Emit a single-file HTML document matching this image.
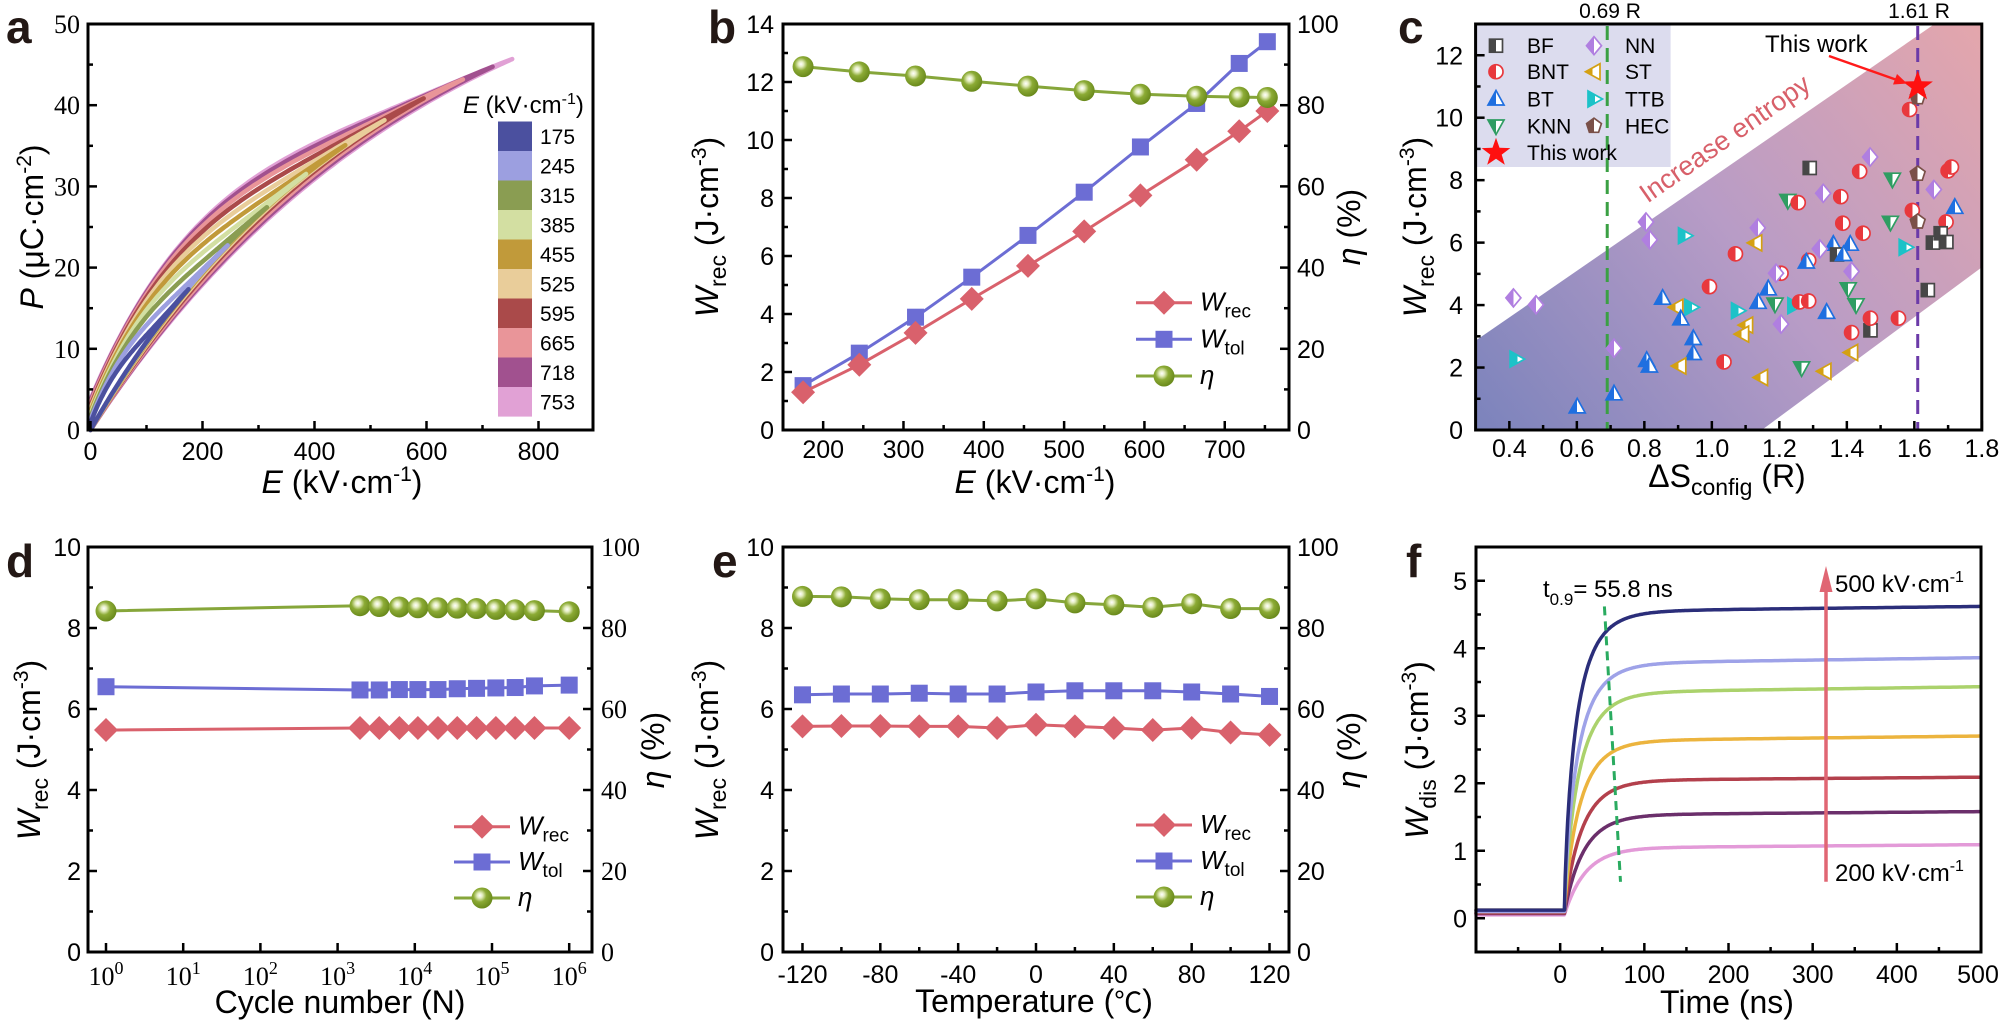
<!DOCTYPE html>
<html><head><meta charset="utf-8">
<style>
html,body{margin:0;padding:0;background:#fff;}
svg{display:block;}
text{font-family:"Liberation Sans",Arial,sans-serif;fill:#000;}
.t{font-size:25px;}
.s{font-family:"Liberation Serif","Times New Roman",serif;font-size:26px;}
.ti{font-size:32px;}
.lb{font-size:46px;font-weight:bold;fill:#231815;}
.lg{font-size:21px;}
.it{font-style:italic;}
</style></head><body>
<svg id="plot" width="2000" height="1024" viewBox="0 0 2000 1024" xmlns="http://www.w3.org/2000/svg">
<defs>
<radialGradient id="ball" cx="0.4" cy="0.38" r="0.62">
<stop offset="0" stop-color="#ffffff"/><stop offset="0.2" stop-color="#e4edc0"/><stop offset="0.5" stop-color="#8cab35"/><stop offset="1" stop-color="#6a8a1c"/>
</radialGradient>
<linearGradient id="band" gradientUnits="userSpaceOnUse" x1="1475" y1="430" x2="1981" y2="24">
<stop offset="0" stop-color="#7b83bc"/><stop offset="0.5" stop-color="#b89cc6"/><stop offset="1" stop-color="#e4a6ac"/>
</linearGradient>
<linearGradient id="hBF" x1="0" x2="1" y1="0" y2="0"><stop offset="0.5" stop-color="#474747"/><stop offset="0.5" stop-color="#fff"/></linearGradient>
<linearGradient id="hBNT" x1="0" x2="1" y1="0" y2="0"><stop offset="0.5" stop-color="#e8383d"/><stop offset="0.5" stop-color="#fff"/></linearGradient>
<linearGradient id="hBT" x1="0" x2="1" y1="0" y2="0"><stop offset="0.5" stop-color="#1f6fe0"/><stop offset="0.5" stop-color="#fff"/></linearGradient>
<linearGradient id="hKNN" x1="0" x2="1" y1="0" y2="0"><stop offset="0.5" stop-color="#2f9d62"/><stop offset="0.5" stop-color="#fff"/></linearGradient>
<linearGradient id="hNN" x1="0" x2="1" y1="0" y2="0"><stop offset="0.5" stop-color="#b07fe0"/><stop offset="0.5" stop-color="#fff"/></linearGradient>
<linearGradient id="hST" x1="0" x2="1" y1="0" y2="0"><stop offset="0.5" stop-color="#d4a012"/><stop offset="0.5" stop-color="#fff"/></linearGradient>
<linearGradient id="hTTB" x1="0" x2="1" y1="0" y2="0"><stop offset="0.5" stop-color="#1cc2c8"/><stop offset="0.5" stop-color="#fff"/></linearGradient>
<linearGradient id="hHEC" x1="0" x2="1" y1="0" y2="0"><stop offset="0.5" stop-color="#7a5048"/><stop offset="0.5" stop-color="#fff"/></linearGradient>
</defs>
<g id="bg"></g>
<g id="data"></g>
<g id="fr"></g>

<!-- ============ Panel a ============ -->
<text class="lb" x="6" y="43">a</text>
<g class="s" text-anchor="end">
<text class="s" x="80" y="439">0</text>
<text class="s" x="80" y="357.8">10</text>
<text class="s" x="80" y="276.6">20</text>
<text class="s" x="80" y="195.4">30</text>
<text class="s" x="80" y="114.2">40</text>
<text class="s" x="80" y="33">50</text>
</g>
<g text-anchor="middle">
<text class="t" x="90.5" y="460">0</text>
<text class="t" x="202.5" y="460">200</text>
<text class="t" x="314.5" y="460">400</text>
<text class="t" x="426.5" y="460">600</text>
<text class="t" x="538.5" y="460">800</text>
<text class="ti" x="342" y="493"><tspan class="it">E</tspan> (kV·cm<tspan dy="-12" font-size="21">-1</tspan><tspan dy="12">)</tspan></text>
<text class="ti" transform="translate(43,227) rotate(-90)"><tspan class="it">P</tspan> (μC·cm<tspan dy="-12" font-size="21">-2</tspan><tspan dy="12">)</tspan></text>
</g>
<text x="463" y="113" font-size="24"><tspan class="it">E</tspan> (kV·cm<tspan dy="-9" font-size="16">-1</tspan><tspan dy="9">)</tspan></text>
<g class="lg">
<text x="540" y="143.8">175</text>
<text x="540" y="173.3">245</text>
<text x="540" y="202.8">315</text>
<text x="540" y="232.3">385</text>
<text x="540" y="261.8">455</text>
<text x="540" y="291.3">525</text>
<text x="540" y="320.8">595</text>
<text x="540" y="350.3">665</text>
<text x="540" y="379.8">718</text>
<text x="540" y="409.3">753</text>
</g>

<!-- ============ Panel b ============ -->
<text class="lb" x="708" y="43">b</text>
<g text-anchor="end">
<text class="t" x="774" y="439">0</text>
<text class="t" x="774" y="381">2</text>
<text class="t" x="774" y="323">4</text>
<text class="t" x="774" y="265">6</text>
<text class="t" x="774" y="207">8</text>
<text class="t" x="774" y="149">10</text>
<text class="t" x="774" y="91">12</text>
<text class="t" x="774" y="33">14</text>
</g>
<text class="t" x="1297" y="439">0</text>
<text class="t" x="1297" y="357.8">20</text>
<text class="t" x="1297" y="276.6">40</text>
<text class="t" x="1297" y="195.4">60</text>
<text class="t" x="1297" y="114.2">80</text>
<text class="t" x="1297" y="33">100</text>
<g text-anchor="middle">
<text class="t" x="823.2" y="458">200</text>
<text class="t" x="903.5" y="458">300</text>
<text class="t" x="983.8" y="458">400</text>
<text class="t" x="1064.1" y="458">500</text>
<text class="t" x="1144.4" y="458">600</text>
<text class="t" x="1224.7" y="458">700</text>
<text class="ti" x="1035" y="493"><tspan class="it">E</tspan> (kV·cm<tspan dy="-12" font-size="21">-1</tspan><tspan dy="12">)</tspan></text>
<text class="ti" transform="translate(718,227) rotate(-90)"><tspan class="it">W</tspan><tspan dy="8" font-size="23">rec</tspan><tspan dy="-8"> (J·cm</tspan><tspan dy="-12" font-size="21">-3</tspan><tspan dy="12">)</tspan></text>
<text class="ti" transform="translate(1360,227) rotate(-90)"><tspan class="it">η</tspan> (%)</text>
</g>
<text x="1200" y="310.7" font-size="26"><tspan class="it">W</tspan><tspan dy="7" font-size="19">rec</tspan></text>
<text x="1200" y="347.3" font-size="26"><tspan class="it">W</tspan><tspan dy="7" font-size="19">tol</tspan></text>
<text x="1200" y="384" font-size="26" class="it">η</text>

<!-- ============ Panel c ============ -->
<text class="lb" x="1398" y="43">c</text>
<text x="1610" y="18" font-size="21" text-anchor="middle">0.69 R</text>
<text x="1919" y="18" font-size="21" text-anchor="middle">1.61 R</text>
<g text-anchor="end">
<text class="t" x="1463" y="439">0</text>
<text class="t" x="1463" y="376.5">2</text>
<text class="t" x="1463" y="314.1">4</text>
<text class="t" x="1463" y="251.6">6</text>
<text class="t" x="1463" y="189.2">8</text>
<text class="t" x="1463" y="126.7">10</text>
<text class="t" x="1463" y="64.3">12</text>
</g>
<g text-anchor="middle">
<text class="t" x="1509.4" y="457">0.4</text>
<text class="t" x="1576.9" y="457">0.6</text>
<text class="t" x="1644.4" y="457">0.8</text>
<text class="t" x="1711.9" y="457">1.0</text>
<text class="t" x="1779.4" y="457">1.2</text>
<text class="t" x="1846.9" y="457">1.4</text>
<text class="t" x="1914.4" y="457">1.6</text>
<text class="t" x="1981.9" y="457">1.8</text>
<text class="ti" x="1727" y="487">ΔS<tspan dy="8" font-size="23">config</tspan><tspan dy="-8"> (R)</tspan></text>
<text class="ti" transform="translate(1426,227) rotate(-90)"><tspan class="it">W</tspan><tspan dy="8" font-size="23">rec</tspan><tspan dy="-8"> (J·cm</tspan><tspan dy="-12" font-size="21">-3</tspan><tspan dy="12">)</tspan></text>
<text font-size="27" fill="#d8606a" style="fill:#d8606a" transform="translate(1730,146) rotate(-35)">Increase entropy</text>
</g>
<g class="lg">
<text x="1527" y="53.2">BF</text>
<text x="1527" y="79.2">BNT</text>
<text x="1527" y="106.5">BT</text>
<text x="1527" y="133.5">KNN</text>
<text x="1527" y="160.2">This work</text>
<text x="1625" y="53.2">NN</text>
<text x="1625" y="79.2">ST</text>
<text x="1625" y="106.5">TTB</text>
<text x="1625" y="133.5">HEC</text>
</g>
<text x="1765" y="52" font-size="24">This work</text>

<!-- ============ Panel d ============ -->
<text class="lb" x="6" y="577">d</text>
<g text-anchor="end">
<text class="t" x="81" y="961">0</text>
<text class="t" x="81" y="880">2</text>
<text class="t" x="81" y="799">4</text>
<text class="t" x="81" y="718">6</text>
<text class="t" x="81" y="637">8</text>
<text class="t" x="81" y="556">10</text>
</g>
<text class="s" x="601" y="961">0</text>
<text class="s" x="601" y="880">20</text>
<text class="s" x="601" y="799">40</text>
<text class="s" x="601" y="718">60</text>
<text class="s" x="601" y="637">80</text>
<text class="s" x="601" y="556">100</text>
<g text-anchor="middle">
<text class="s" x="106" y="985">10<tspan dy="-11" font-size="18">0</tspan></text>
<text class="s" x="183.2" y="985">10<tspan dy="-11" font-size="18">1</tspan></text>
<text class="s" x="260.4" y="985">10<tspan dy="-11" font-size="18">2</tspan></text>
<text class="s" x="337.6" y="985">10<tspan dy="-11" font-size="18">3</tspan></text>
<text class="s" x="414.8" y="985">10<tspan dy="-11" font-size="18">4</tspan></text>
<text class="s" x="492" y="985">10<tspan dy="-11" font-size="18">5</tspan></text>
<text class="s" x="569.2" y="985">10<tspan dy="-11" font-size="18">6</tspan></text>
<text class="ti" x="340" y="1013">Cycle number (N)</text>
<text class="ti" transform="translate(40,750) rotate(-90)"><tspan class="it">W</tspan><tspan dy="8" font-size="23">rec</tspan><tspan dy="-8"> (J·cm</tspan><tspan dy="-12" font-size="21">-3</tspan><tspan dy="12">)</tspan></text>
<text class="ti" transform="translate(664,750) rotate(-90)"><tspan class="it">η</tspan> (%)</text>
</g>
<text x="518" y="834.7" font-size="26"><tspan class="it">W</tspan><tspan dy="7" font-size="19">rec</tspan></text>
<text x="518" y="870" font-size="26"><tspan class="it">W</tspan><tspan dy="7" font-size="19">tol</tspan></text>
<text x="518" y="906" font-size="26" class="it">η</text>

<!-- ============ Panel e ============ -->
<text class="lb" x="712" y="577">e</text>
<g text-anchor="end">
<text class="t" x="774" y="961">0</text>
<text class="t" x="774" y="880">2</text>
<text class="t" x="774" y="799">4</text>
<text class="t" x="774" y="718">6</text>
<text class="t" x="774" y="637">8</text>
<text class="t" x="774" y="556">10</text>
</g>
<text class="t" x="1297" y="961">0</text>
<text class="t" x="1297" y="880">20</text>
<text class="t" x="1297" y="799">40</text>
<text class="t" x="1297" y="718">60</text>
<text class="t" x="1297" y="637">80</text>
<text class="t" x="1297" y="556">100</text>
<g text-anchor="middle">
<text class="t" x="802.5" y="983">-120</text>
<text class="t" x="880.3" y="983">-80</text>
<text class="t" x="958.2" y="983">-40</text>
<text class="t" x="1036" y="983">0</text>
<text class="t" x="1113.8" y="983">40</text>
<text class="t" x="1191.7" y="983">80</text>
<text class="t" x="1269.5" y="983">120</text>
<text class="ti" x="1034" y="1012">Temperature (<tspan font-family="'Noto Sans CJK SC','DejaVu Sans',sans-serif" font-size="28">℃</tspan>)</text>
<text class="ti" transform="translate(718,750) rotate(-90)"><tspan class="it">W</tspan><tspan dy="8" font-size="23">rec</tspan><tspan dy="-8"> (J·cm</tspan><tspan dy="-12" font-size="21">-3</tspan><tspan dy="12">)</tspan></text>
<text class="ti" transform="translate(1360,750) rotate(-90)"><tspan class="it">η</tspan> (%)</text>
</g>
<text x="1200" y="833" font-size="26"><tspan class="it">W</tspan><tspan dy="7" font-size="19">rec</tspan></text>
<text x="1200" y="869" font-size="26"><tspan class="it">W</tspan><tspan dy="7" font-size="19">tol</tspan></text>
<text x="1200" y="905" font-size="26" class="it">η</text>

<!-- ============ Panel f ============ -->
<text class="lb" x="1406" y="577">f</text>
<g text-anchor="end">
<text class="t" x="1467" y="927.3">0</text>
<text class="t" x="1467" y="859.8">1</text>
<text class="t" x="1467" y="792.3">2</text>
<text class="t" x="1467" y="724.8">3</text>
<text class="t" x="1467" y="657.3">4</text>
<text class="t" x="1467" y="589.8">5</text>
</g>
<g text-anchor="middle">
<text class="t" x="1560.2" y="983">0</text>
<text class="t" x="1644.3" y="983">100</text>
<text class="t" x="1728.5" y="983">200</text>
<text class="t" x="1812.7" y="983">300</text>
<text class="t" x="1896.9" y="983">400</text>
<text class="t" x="1978" y="983">500</text>
<text class="ti" x="1727" y="1013">Time (ns)</text>
<text class="ti" transform="translate(1428,750) rotate(-90)"><tspan class="it">W</tspan><tspan dy="8" font-size="23">dis</tspan><tspan dy="-8"> (J·cm</tspan><tspan dy="-12" font-size="21">-3</tspan><tspan dy="12">)</tspan></text>
</g>
<text x="1543" y="597" font-size="24">t<tspan dy="8" font-size="17">0.9</tspan><tspan dy="-8">= 55.8 ns</tspan></text>
<text x="1835" y="592" font-size="24">500 kV·cm<tspan dy="-10" font-size="16">-1</tspan></text>
<text x="1835" y="881" font-size="24">200 kV·cm<tspan dy="-10" font-size="16">-1</tspan></text>
</svg>
<script>
(function(){
const NS='http://www.w3.org/2000/svg';
const G=id=>document.getElementById(id);
function E(tag,a,p){const e=document.createElementNS(NS,tag);for(const k in a)e.setAttribute(k,a[k]);p.appendChild(e);return e;}
const BG=G('bg'),D=G('data'),FR=G('fr');
function L(x1,y1,x2,y2,c,w,p,dash){const a={x1:x1,y1:y1,x2:x2,y2:y2,stroke:c,'stroke-width':w};if(dash)a['stroke-dasharray']=dash;return E('line',a,p);}
function pl(pts,c,w,p){return E('polyline',{points:pts.map(q=>q[0].toFixed(1)+','+q[1].toFixed(1)).join(' '),fill:'none',stroke:c,'stroke-width':w,'stroke-linejoin':'round','stroke-linecap':'round'},p);}
function dia(x,y,h,c,p){E('polygon',{points:(x)+','+(y-h)+' '+(x+h)+','+y+' '+x+','+(y+h)+' '+(x-h)+','+y,fill:c},p);}
function sq(x,y,s,c,p){E('rect',{x:x-s/2,y:y-s/2,width:s,height:s,fill:c},p);}
function ball(x,y,r,p){E('circle',{cx:x,cy:y,r:r,fill:'url(#ball)'},p);}
function frame(x0,y0,x1,y1){E('rect',{x:x0,y:y0,width:x1-x0,height:y1-y0,fill:'none',stroke:'#000','stroke-width':3},FR);}
function tb(xs,y,len){xs.forEach(x=>L(x,y,x,y-len,'#000',2.5,FR));}
function tl(ys,x,len){ys.forEach(y=>L(x,y,x+len,y,'#000',2.5,FR));}
function tr(ys,x,len){ys.forEach(y=>L(x,y,x-len,y,'#000',2.5,FR));}
function rng(a,b,s){const r=[];for(let i=0;a+i*s<=b+1e-9;i++)r.push(a+i*s);return r;}
const RED='#d9616c',BLUE='#6c6dd4',GRN='#86a63a';

/* ---------- Panel a ---------- */
const ax=E_=>90.5+E_*0.56, ay=P=>430-P*8.12;
const LC=[[175,'#4b509f'],[245,'#9c9fe0'],[315,'#8a9d52'],[385,'#d3dfa2'],[455,'#c19a3a'],[525,'#e9cd9a'],[595,'#aa4a4a'],[665,'#e99599'],[718,'#a1518f'],[753,'#e1a1d5']];
for(let i=LC.length-1;i>=0;i--){
  const Em=LC[i][0],col=LC[i][1];
  const Pm=58.7*(1-Math.exp(-Em/500));
  const E0=400+(Em-175)/578*220;
  const A=Pm/(1-Math.exp(-Em/E0));
  const r=Em/753,Pr=3.8*r,c=48*r;
  const pts=[];
  for(let k=0;k<=80;k++){const e=Em*k/80;pts.push([ax(e),ay(A*(1-Math.exp(-e/E0)))]);}
  for(let k=80;k>=0;k--){const e=Em*k/80,u=e/Em;const lo=A*(1-Math.exp(-e/E0));pts.push([ax(e),ay(lo+Pr*(1-u)+c*u*Math.pow(1-u,3))]);}
  pl(pts,col,4.5,D);
}
for(let i=0;i<LC.length;i++){E('rect',{x:498,y:121.5+29.5*i,width:34,height:29.6,fill:LC[i][1]},D);}
frame(88,24,593,430);
tb([0,200,400,600,800].map(ax),430,9);tb([100,300,500,700].map(ax),430,5);
tl(rng(0,50,10).map(ay),88,9);tl(rng(5,45,10).map(ay),88,5);

/* ---------- Panel b ---------- */
const bx=e=>783+(e-150)*0.8032, by=w=>430-w*29, bye=h=>430-h*4.06;
const bE=[175,245,315,385,455,525,595,665,718,753];
const bR=[1.3,2.25,3.35,4.52,5.66,6.85,8.09,9.32,10.3,11.0];
const bT=[1.53,2.65,3.89,5.27,6.71,8.2,9.76,11.26,12.64,13.39];
const bH=[89.5,88.2,87.2,85.9,84.7,83.6,82.7,82.2,82.0,81.9];
function series(xs,ys,fx,fy,kind){
  const col=kind==='r'?RED:kind==='t'?BLUE:GRN;
  pl(xs.map((x,i)=>[fx(x),fy(ys[i])]),col,3,D);
  xs.forEach((x,i)=>{const X=fx(x),Y=fy(ys[i]);if(kind==='r')dia(X,Y,12,RED,D);else if(kind==='t')sq(X,Y,17,BLUE,D);else ball(X,Y,10.5,D);});
}
series(bE,bT,bx,by,'t');series(bE,bR,bx,by,'r');series(bE,bH,bx,bye,'h');
function leg(mx,ys){
  L(mx-28,ys[0],mx+28,ys[0],RED,3,D);dia(mx,ys[0],12,RED,D);
  L(mx-28,ys[1],mx+28,ys[1],BLUE,3,D);sq(mx,ys[1],17,BLUE,D);
  L(mx-28,ys[2],mx+28,ys[2],GRN,3,D);ball(mx,ys[2],10.5,D);
}
leg(1164,[302.7,339.3,376]);
frame(783,24,1289,430);
tb(rng(200,700,100).map(bx),430,9);tb(rng(250,750,100).map(bx),430,5);
tl(rng(0,14,2).map(by),783,9);tl(rng(1,13,2).map(by),783,5);
tr(rng(0,100,20).map(bye),1289,9);tr(rng(10,90,20).map(bye),1289,5);

/* ---------- Panel c ---------- */
const cx=x=>1475.6+(x-0.3)*337.5, cy=y=>430-y*31.23;
E('polygon',{points:[[0.3,0],[1.148,0],[1.8,5.21],[1.8,13],[1.66,13],[0.3,2.86]].map(p=>cx(p[0])+','+cy(p[1])).join(' '),fill:'url(#band)'},BG);
E('rect',{x:1475.6,y:24,width:195,height:143,fill:'#dcdcee'},BG);
L(cx(0.69),26,cx(0.69),430,'#3aa043',3,D,'14 8');
L(cx(1.61),26,cx(1.61),430,'#6b3aa8',3,D,'14 8');
const CC={BF:'#474747',BNT:'#e8383d',BT:'#1f6fe0',KNN:'#2f9d62',NN:'#b07fe0',ST:'#d4a012',TTB:'#1cc2c8',HEC:'#7a5048'};
function mk(t,X,Y){
  const a={fill:'url(#h'+t+')',stroke:CC[t],'stroke-width':1.7};
  let pts=null;
  if(t==='BF'){a.x=X-6.5;a.y=Y-6.5;a.width=13;a.height=13;E('rect',a,D);return;}
  if(t==='BNT'){a.cx=X;a.cy=Y;a.r=7;E('circle',a,D);return;}
  if(t==='BT')pts=[[X,Y-8.5],[X+8,Y+6],[X-8,Y+6]];
  if(t==='KNN')pts=[[X,Y+8.5],[X+8,Y-6],[X-8,Y-6]];
  if(t==='NN')pts=[[X,Y-9],[X+7.5,Y],[X,Y+9],[X-7.5,Y]];
  if(t==='ST')pts=[[X-8.5,Y],[X+6,Y-8],[X+6,Y+8]];
  if(t==='TTB')pts=[[X+8.5,Y],[X-6,Y-8],[X-6,Y+8]];
  if(t==='HEC'){pts=[];for(let k=0;k<5;k++){const an=(-90+72*k)*Math.PI/180;pts.push([X+7.8*Math.cos(an),Y+7.8*Math.sin(an)]);}}
  a.points=pts.map(p=>p[0].toFixed(1)+','+p[1].toFixed(1)).join(' ');E('polygon',a,D);
}
const CD=[['BNT',1.586,10.26],['HEC',1.61,10.65],['NN',1.469,8.74],['BF',1.29,8.39],['BNT',1.438,8.28],['KNN',1.535,8.03],['HEC',1.61,8.2],['BNT',1.70,8.3],['BNT',1.71,8.42],['NN',1.658,7.70],['BT',1.72,7.13],['KNN',1.225,7.35],['BNT',1.256,7.28],['NN',1.33,7.58],['BNT',1.382,7.47],['BNT',1.594,7.03],['KNN',1.529,6.65],['HEC',1.61,6.67],['BNT',1.694,6.66],['BNT',1.388,6.62],['BNT',1.448,6.30],['NN',0.805,6.66],['NN',0.816,6.09],['TTB',0.919,6.22],['NN',1.136,6.47],['ST',1.13,5.99],['BNT',1.07,5.64],['BT',1.36,5.95],['BT',1.41,5.95],['NN',1.32,5.80],['TTB',1.573,5.85],['BF',1.655,6.0],['BF',1.678,6.3],['BF',1.695,6.02],
['NN',0.412,4.23],['NN',0.479,4.01],['TTB',0.420,2.27],['BT',0.601,0.74],['BT',0.71,1.16],['NN',0.71,2.62],['BT',0.807,2.23],['BT',0.815,2.05],['BT',0.854,4.22],['ST',0.896,3.93],['TTB',0.938,3.93],['BT',0.908,3.56],['BT',0.945,2.93],['BT',0.945,2.45],['ST',0.905,2.05],['BNT',0.993,4.59],['BNT',1.036,2.18],['TTB',1.076,3.82],['ST',1.103,3.36],['ST',1.091,3.07],['ST',1.147,1.68],['BT',1.167,4.52],['BT',1.137,4.09],['KNN',1.187,4.03],['BNT',1.205,5.02],['NN',1.19,5.02],['NN',1.205,3.39],['TTB',1.243,3.98],['BNT',1.26,4.10],['BNT',1.287,4.13],['KNN',1.266,1.99],['BNT',1.287,5.43],['BT',1.28,5.38],['BF',1.371,5.62],['BT',1.39,5.62],['NN',1.414,5.08],['KNN',1.404,4.52],['KNN',1.427,4.01],['BT',1.340,3.77],['ST',1.335,1.88],['ST',1.414,2.48],['BNT',1.414,3.12],['BF',1.47,3.19],['BNT',1.47,3.58],['BNT',1.553,3.58],['BF',1.64,4.48]];
CD.forEach(p=>mk(p[0],cx(p[1]),cy(p[2])));
function star(X,Y,R,p){const pts=[];for(let k=0;k<10;k++){const an=(-90+36*k)*Math.PI/180,rr=k%2?R*0.4:R;pts.push((X+rr*Math.cos(an)).toFixed(1)+','+(Y+rr*Math.sin(an)).toFixed(1));}E('polygon',{points:pts.join(' '),fill:'#ff1010'},p);}
star(cx(1.61),cy(11),16,D);
L(1829,56,1897,80,'#ff1a1a',2.5,D);
E('polygon',{points:'1907,83.5 1893,84.5 1897,74',fill:'#ff1a1a'},D);
mk('BF',1496,45.7);mk('BNT',1496,71.7);mk('BT',1496,99);mk('KNN',1496,126);star(1496,152.7,15,D);
mk('NN',1594,45.7);mk('ST',1594,71.7);mk('TTB',1594,99);mk('HEC',1594,126);
frame(1475.6,24,1981.8,430);
tb(rng(0.4,1.8,0.2).map(cx),430,9);tb(rng(0.5,1.7,0.2).map(cx),430,5);
tl(rng(0,12,2).map(cy),1475.6,9);tl(rng(1,11,2).map(cy),1475.6,5);

/* ---------- Panel d ---------- */
const dx=d=>106+d*77.2, dy=w=>952-w*40.5, dye=h=>952-h*4.05;
const dD=[0,3.29,3.54,3.80,4.04,4.30,4.55,4.80,5.05,5.30,5.55,6.0];
const dR=[5.48,5.53,5.53,5.53,5.53,5.53,5.53,5.53,5.53,5.53,5.53,5.53];
const dT=[6.55,6.47,6.47,6.48,6.48,6.48,6.5,6.51,6.52,6.53,6.57,6.59];
const dH=[84.2,85.5,85.3,85.2,85.0,85.0,84.9,84.8,84.6,84.5,84.3,84.0];
series(dD,dT,dx,dy,'t');series(dD,dR,dx,dy,'r');series(dD,dH,dx,dye,'h');
leg(482,[826.7,862,898]);
frame(88,547,592,952);
tb(rng(0,6,1).map(dx),952,9);
tl(rng(0,10,2).map(dy),88,9);tl(rng(1,9,2).map(dy),88,5);
tr(rng(0,10,2).map(dy),592,9);tr(rng(1,9,2).map(dy),592,5);

/* ---------- Panel e ---------- */
const ex=t=>1036+t*1.946;
const eT=rng(-120,120,20);
const eH=[87.8,87.7,87.2,87.0,87.0,86.7,87.2,86.2,85.7,85.1,86.0,84.8,84.8];
const eW=[6.35,6.37,6.37,6.39,6.37,6.37,6.42,6.45,6.45,6.45,6.42,6.37,6.31];
const eR=[5.57,5.58,5.58,5.57,5.57,5.53,5.61,5.57,5.53,5.48,5.53,5.42,5.36];
series(eT,eW,ex,dy,'t');series(eT,eR,ex,dy,'r');series(eT,eH,ex,dye,'h');
leg(1164,[825,861,897]);
frame(783,547,1289,952);
tb(rng(-120,120,40).map(ex),952,9);tb(rng(-100,100,40).map(ex),952,5);
tl(rng(0,10,2).map(dy),783,9);tl(rng(1,9,2).map(dy),783,5);
tr(rng(0,10,2).map(dy),1289,9);tr(rng(1,9,2).map(dy),1289,5);

/* ---------- Panel f ---------- */
const fx=t=>1476+(t+100)*0.8417, fy=w=>952-(w+0.5)*67.5;
const FC=[[1.05,1.09,'#e39ad8',25,1.0,0.05],[1.54,1.58,'#6b2f6b',23,0.96,0.07],[2.05,2.09,'#b3404c',21,0.93,0.08],[2.64,2.70,'#ecb43e',19,0.9,0.12],[3.36,3.43,'#abd26c',17.5,0.86,0.1],[3.79,3.86,'#9ea2e8',16,0.83,0.1],[4.56,4.62,'#2b2e7a',14.5,0.8,0.12]];
FC.forEach(c=>{
  const pts=[];
  for(let t=-100;t<=500;t+=(t<0||t>150)?4:1){
    let w;
    if(t<=5)w=c[5];
    else{const x=t-5;const S=1-Math.exp(-Math.pow(x/c[3],c[4]));const Wf=c[0]+(c[1]-c[0])*(t-100)/400;w=c[5]+(Wf-c[5])*S;}
    pts.push([fx(t),fy(w)]);
  }
  pl(pts,c[2],3.5,D);
});
L(1604.4,606.4,1620.5,881.8,'#2aab60',3,D,'9 6');
L(1826,881.7,1826,588,'#e06673',3.5,D);
E('polygon',{points:'1826,566 1819.5,592 1832.5,592',fill:'#e06673'},D);
frame(1476,547,1981,952);
tb(rng(0,500,100).map(fx),952,9);tb(rng(-50,450,100).map(fx),952,5);
tl(rng(0,5,1).map(fy),1476,9);tl(rng(-0.5,4.5,1).slice(1).map(fy),1476,5);
})();
</script>
</body></html>
